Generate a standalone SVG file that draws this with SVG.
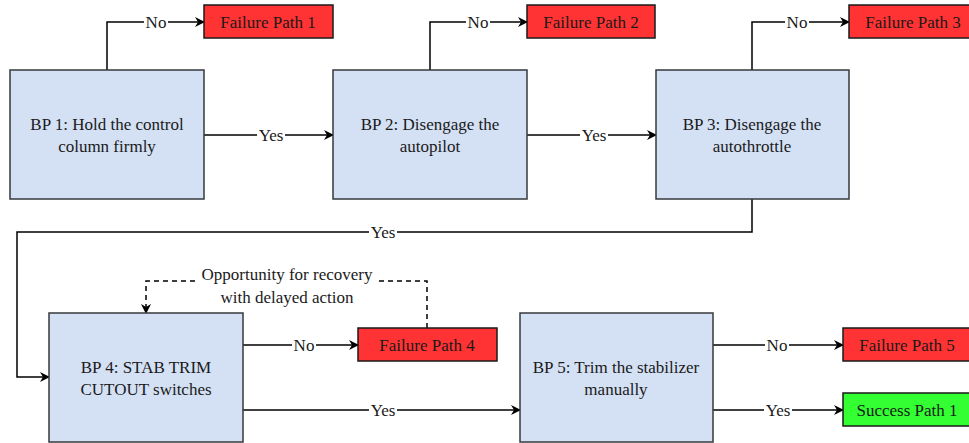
<svg xmlns="http://www.w3.org/2000/svg" width="969" height="443" viewBox="0 0 969 443">
  <style>
    .bp { fill: #d4e1f5; stroke: #36393d; stroke-width: 1.5; }
    .fail { fill: #ff3333; stroke: #1a1a1a; stroke-width: 1.5; }
    .ok { fill: #33ff33; stroke: #1a1a1a; stroke-width: 1.5; }
    .edge { fill: none; stroke: #000; stroke-width: 1.5; marker-end: url(#arrow); }
    .dash { fill: none; stroke: #000; stroke-width: 1.5; stroke-dasharray: 5 4; marker-end: url(#arrow); }
    .lbg { fill: #fff; }
  </style>
  <defs>
    <marker id="arrow" viewBox="0 0 10 10" refX="9" refY="5" markerWidth="10" markerHeight="10" markerUnits="userSpaceOnUse" orient="auto">
      <path d="M0,0 L10,5 L0,10 L3,5 Z" fill="#000"/>
    </marker>
  </defs>

  <!-- connectors -->
  <g id="connectors">
    <path class="edge" d="M107,70 V22 H204"/>
    <path class="edge" d="M204,135 H333"/>
    <path class="edge" d="M430,70 V22 H527"/>
    <path class="edge" d="M527,135 H656"/>
    <path class="edge" d="M752,70 V22 H849"/>
    <path class="edge" d="M752,199 V232 H17 V377 H49"/>
    <path class="edge" d="M243,345 H358"/>
    <path class="dash" d="M427,328 V281 H146 V313"/>
    <path class="edge" d="M243,410 H520"/>
    <path class="edge" d="M713,345 H843"/>
    <path class="edge" d="M713,410 H843"/>
    <rect class="lbg" x="144" y="13" width="24" height="18"/>
    <rect class="lbg" x="257" y="126" width="28" height="18"/>
    <rect class="lbg" x="466" y="13" width="24" height="18"/>
    <rect class="lbg" x="580" y="126" width="28" height="18"/>
    <rect class="lbg" x="785" y="13" width="24" height="18"/>
    <rect class="lbg" x="369" y="223" width="28" height="18"/>
    <rect class="lbg" x="292" y="336" width="24" height="18"/>
    <rect class="lbg" x="369" y="401" width="28" height="18"/>
    <rect class="lbg" x="765" y="336" width="24" height="18"/>
    <rect class="lbg" x="764" y="401" width="28" height="18"/>
    <rect class="lbg" x="197" y="263" width="180" height="45"/>
  </g>

  <g font-family="Liberation Serif" font-size="17" fill="#1a1a1a" text-anchor="middle">
    <!-- edge labels -->
    <g id="edge-labels">
      <text x="156" y="28">No</text>
      <text x="271" y="141">Yes</text>
      <text x="478" y="28">No</text>
      <text x="594" y="141">Yes</text>
      <text x="797" y="28">No</text>
      <text x="383" y="238">Yes</text>
      <text x="304" y="351">No</text>
      <text x="383" y="416">Yes</text>
      <text x="777" y="351">No</text>
      <text x="778" y="416">Yes</text>
      <text x="287" y="280">Opportunity for recovery</text>
      <text x="287" y="303">with delayed action</text>
    </g>

    <!-- decision points -->
    <g id="bp1">
      <rect class="bp" x="10" y="70" width="194" height="129"/>
      <text x="107" y="130">BP 1: Hold the control</text>
      <text x="107" y="152">column firmly</text>
    </g>
    <g id="bp2">
      <rect class="bp" x="333" y="70" width="194" height="129"/>
      <text x="430" y="130">BP 2: Disengage the</text>
      <text x="430" y="152">autopilot</text>
    </g>
    <g id="bp3">
      <rect class="bp" x="656" y="70" width="193" height="129"/>
      <text x="752" y="130">BP 3: Disengage the</text>
      <text x="752" y="152">autothrottle</text>
    </g>
    <g id="bp4">
      <rect class="bp" x="49" y="313" width="194" height="129"/>
      <text x="146" y="373">BP 4: STAB TRIM</text>
      <text x="146" y="395">CUTOUT switches</text>
    </g>
    <g id="bp5">
      <rect class="bp" x="520" y="313" width="193" height="129"/>
      <text x="616" y="373">BP 5: Trim the stabilizer</text>
      <text x="616" y="395">manually</text>
    </g>

    <!-- outcomes -->
    <g id="fail1">
      <rect class="fail" x="204" y="5" width="129" height="33"/>
      <text x="268" y="28">Failure Path 1</text>
    </g>
    <g id="fail2">
      <rect class="fail" x="527" y="5" width="128" height="33"/>
      <text x="591" y="28">Failure Path 2</text>
    </g>
    <g id="fail3">
      <rect class="fail" x="849" y="5" width="129" height="33"/>
      <text x="913" y="28">Failure Path 3</text>
    </g>
    <g id="fail4">
      <rect class="fail" x="358" y="328" width="139" height="33"/>
      <text x="427" y="351">Failure Path 4</text>
    </g>
    <g id="fail5">
      <rect class="fail" x="843" y="328" width="129" height="33"/>
      <text x="907" y="351">Failure Path 5</text>
    </g>
    <g id="success1">
      <rect class="ok" x="843" y="393" width="129" height="33"/>
      <text x="907" y="416">Success Path 1</text>
    </g>
  </g>
</svg>
